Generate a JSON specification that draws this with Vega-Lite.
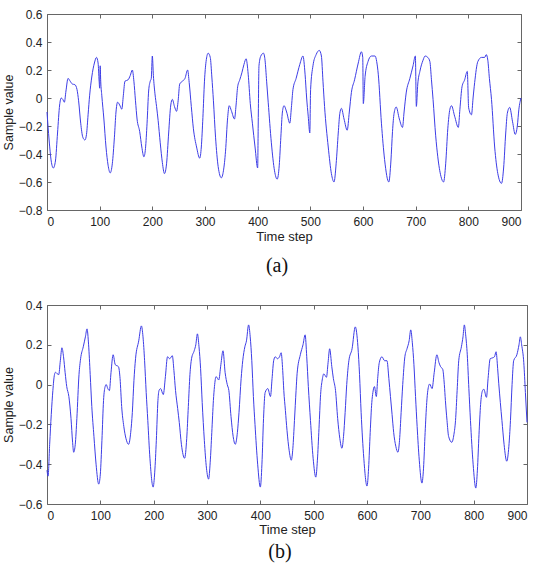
{
 "$schema": "https://vega.github.io/schema/vega-lite/v6.json",
 "padding": {"left": 2, "top": 8, "right": 5, "bottom": 5},
 "spacing": 23,
 "config": {
  "view": {"stroke": null},
  "axis": {"grid": false, "domainColor": "#666", "tickColor": "#666", "tickSize": -4, "labelPadding": 10, "labelFont": "Liberation Sans", "labelFontSize": 12, "labelColor": "#222", "titleFont": "Liberation Sans", "titleFontWeight": "normal", "titleColor": "#222", "titleFontSize": 13},
  "axisY": {"titleFontSize": 12.5, "labelPadding": 9, "titlePadding": 3}
 },
 "vconcat": [
  {
   "width": 474, "height": 196,
   "title": {"text": "(a)", "orient": "bottom", "font": "Liberation Serif", "fontSize": 20, "fontWeight": "normal", "offset": 13, "dx": -7, "color": "#111"},
   "data": {"values": [
{"t":0,"v":-0.1},{"t":4,"v":-0.3},{"t":8,"v":-0.45},{"t":12,"v":-0.5},{"t":16,"v":-0.45},{"t":20,"v":-0.25},{"t":24,"v":-0.05},{"t":27,"v":0.0},{"t":30,"v":-0.01},{"t":33,"v":-0.03},{"t":36,"v":0.05},{"t":40,"v":0.14},{"t":44,"v":0.12},{"t":48,"v":0.1},{"t":53,"v":0.095},{"t":57,"v":0.06},{"t":60,"v":-0.02},{"t":64,"v":-0.18},{"t":68,"v":-0.28},{"t":72,"v":-0.3},{"t":75,"v":-0.26},{"t":78,"v":-0.12},{"t":81,"v":0.02},{"t":85,"v":0.15},{"t":90,"v":0.25},{"t":94,"v":0.29},{"t":97,"v":0.25},{"t":99,"v":0.12},{"t":100,"v":0.07},{"t":101,"v":0.23},{"t":102,"v":0.12},{"t":104,"v":0.02},{"t":108,"v":-0.15},{"t":112,"v":-0.35},{"t":116,"v":-0.48},{"t":120,"v":-0.535},{"t":124,"v":-0.47},{"t":128,"v":-0.28},{"t":131,"v":-0.1},{"t":134,"v":-0.03},{"t":138,"v":-0.05},{"t":142,"v":-0.08},{"t":145,"v":0.02},{"t":148,"v":0.12},{"t":154,"v":0.13},{"t":158,"v":0.16},{"t":162,"v":0.2},{"t":165,"v":0.12},{"t":168,"v":-0.02},{"t":171,"v":-0.15},{"t":176,"v":-0.24},{"t":180,"v":-0.35},{"t":184,"v":-0.42},{"t":187,"v":-0.36},{"t":190,"v":-0.18},{"t":193,"v":0.05},{"t":196,"v":0.12},{"t":198,"v":0.14},{"t":200,"v":0.3},{"t":202,"v":0.16},{"t":205,"v":0.03},{"t":208,"v":-0.06},{"t":211,"v":-0.16},{"t":215,"v":-0.32},{"t":219,"v":-0.46},{"t":223,"v":-0.54},{"t":227,"v":-0.47},{"t":231,"v":-0.25},{"t":235,"v":-0.05},{"t":238,"v":-0.01},{"t":242,"v":-0.06},{"t":246,"v":-0.095},{"t":249,"v":-0.02},{"t":252,"v":0.1},{"t":257,"v":0.12},{"t":262,"v":0.14},{"t":267,"v":0.2},{"t":270,"v":0.11},{"t":274,"v":-0.06},{"t":278,"v":-0.22},{"t":284,"v":-0.35},{"t":290,"v":-0.43},{"t":293,"v":-0.35},{"t":296,"v":-0.14},{"t":299,"v":0.12},{"t":302,"v":0.26},{"t":306,"v":0.32},{"t":310,"v":0.29},{"t":313,"v":0.15},{"t":316,"v":-0.02},{"t":320,"v":-0.28},{"t":325,"v":-0.49},{"t":331,"v":-0.57},{"t":335,"v":-0.52},{"t":339,"v":-0.38},{"t":343,"v":-0.14},{"t":346,"v":-0.055},{"t":350,"v":-0.09},{"t":356,"v":-0.15},{"t":359,"v":-0.05},{"t":362,"v":0.08},{"t":366,"v":0.13},{"t":370,"v":0.18},{"t":374,"v":0.24},{"t":378,"v":0.28},{"t":382,"v":0.17},{"t":386,"v":-0.04},{"t":390,"v":-0.18},{"t":395,"v":-0.35},{"t":400,"v":-0.5},{"t":401,"v":-0.2},{"t":402.5,"v":0.23},{"t":406,"v":0.3},{"t":411,"v":0.32},{"t":414,"v":0.27},{"t":417,"v":0.12},{"t":420,"v":-0.03},{"t":426,"v":-0.32},{"t":432,"v":-0.52},{"t":437,"v":-0.58},{"t":441,"v":-0.48},{"t":444,"v":-0.28},{"t":447,"v":-0.1},{"t":450,"v":-0.055},{"t":455,"v":-0.1},{"t":461,"v":-0.18},{"t":464,"v":-0.07},{"t":467,"v":0.06},{"t":473,"v":0.14},{"t":480,"v":0.24},{"t":486,"v":0.3},{"t":490,"v":0.17},{"t":493,"v":0.0},{"t":496,"v":-0.13},{"t":499,"v":-0.25},{"t":500.5,"v":0.06},{"t":505,"v":0.23},{"t":511,"v":0.31},{"t":517,"v":0.34},{"t":521,"v":0.3},{"t":524,"v":0.12},{"t":527,"v":-0.06},{"t":534,"v":-0.35},{"t":540,"v":-0.54},{"t":545,"v":-0.6},{"t":549,"v":-0.47},{"t":553,"v":-0.25},{"t":556,"v":-0.11},{"t":559,"v":-0.074},{"t":564,"v":-0.15},{"t":570,"v":-0.23},{"t":574,"v":-0.1},{"t":578,"v":0.04},{"t":584,"v":0.13},{"t":591,"v":0.25},{"t":597,"v":0.33},{"t":599.5,"v":0.29},{"t":600.6,"v":-0.04},{"t":604,"v":0.155},{"t":609.5,"v":0.26},{"t":616,"v":0.3},{"t":623,"v":0.3},{"t":626,"v":0.26},{"t":629,"v":0.17},{"t":635,"v":-0.18},{"t":641,"v":-0.44},{"t":649,"v":-0.6},{"t":653,"v":-0.45},{"t":656,"v":-0.24},{"t":659,"v":-0.11},{"t":663,"v":-0.064},{"t":669,"v":-0.15},{"t":675,"v":-0.21},{"t":678,"v":-0.1},{"t":682,"v":0.036},{"t":689,"v":0.14},{"t":695,"v":0.23},{"t":699.4,"v":0.3},{"t":701.3,"v":-0.06},{"t":704,"v":0.1},{"t":708,"v":0.19},{"t":714,"v":0.27},{"t":718,"v":0.3},{"t":723,"v":0.29},{"t":727,"v":0.26},{"t":730,"v":0.13},{"t":733,"v":-0.01},{"t":738,"v":-0.27},{"t":742,"v":-0.42},{"t":748,"v":-0.56},{"t":753,"v":-0.6},{"t":757,"v":-0.47},{"t":761,"v":-0.22},{"t":765,"v":-0.08},{"t":768,"v":-0.055},{"t":774,"v":-0.13},{"t":781,"v":-0.21},{"t":784,"v":-0.08},{"t":788,"v":0.08},{"t":793,"v":0.13},{"t":798,"v":0.19},{"t":800.6,"v":-0.07},{"t":806,"v":-0.12},{"t":809,"v":0.0},{"t":812,"v":0.11},{"t":818,"v":0.26},{"t":825,"v":0.29},{"t":831,"v":0.29},{"t":834,"v":0.31},{"t":837,"v":0.27},{"t":840,"v":0.14},{"t":844,"v":-0.01},{"t":850,"v":-0.35},{"t":856,"v":-0.54},{"t":863,"v":-0.61},{"t":867,"v":-0.5},{"t":871,"v":-0.25},{"t":874,"v":-0.11},{"t":878.5,"v":-0.067},{"t":884,"v":-0.17},{"t":889,"v":-0.26},{"t":893,"v":-0.2},{"t":896,"v":-0.08},{"t":900,"v":0.0}
   ]},
   "layer": [
    {"mark": {"type": "line", "color": "#3d3de6", "strokeWidth": 1, "interpolate": "monotone"},
     "encoding": {
      "x": {"field": "t", "type": "quantitative", "scale": {"domain": [0, 900], "nice": false}, "axis": {"orient": "bottom", "title": "Time step", "titlePadding": 3, "values": [0,100,200,300,400,500,600,700,800,900]}},
      "y": {"field": "v", "type": "quantitative", "scale": {"domain": [-0.8, 0.6], "nice": false, "zero": false}, "axis": {"orient": "left", "title": "Sample value", "values": [-0.8,-0.6,-0.4,-0.2,0,0.2,0.4,0.6], "format": "~g"}}
     }},
    {"mark": {"type": "line", "opacity": 0},
     "encoding": {
      "x": {"field": "t", "type": "quantitative", "axis": {"orient": "top", "labels": false, "title": null, "values": [0,100,200,300,400,500,600,700,800,900]}},
      "y": {"field": "v", "type": "quantitative", "axis": {"orient": "right", "labels": false, "title": null, "values": [-0.8,-0.6,-0.4,-0.2,0,0.2,0.4,0.6]}}
     }}
   ]
  },
  {
   "width": 480, "height": 199,
   "title": {"text": "(b)", "orient": "bottom", "font": "Liberation Serif", "fontSize": 20, "fontWeight": "normal", "offset": 6, "dx": -7, "color": "#111"},
   "data": {"values": [
{"t":0,"v":-0.43},{"t":2,"v":-0.46},{"t":5,"v":-0.3},{"t":8,"v":-0.15},{"t":11,"v":-0.03},{"t":14,"v":0.05},{"t":16,"v":0.062},{"t":19,"v":0.055},{"t":22,"v":0.05},{"t":25,"v":0.12},{"t":28,"v":0.185},{"t":31,"v":0.14},{"t":34,"v":0.06},{"t":37,"v":-0.01},{"t":41,"v":-0.06},{"t":45,"v":-0.17},{"t":48,"v":-0.29},{"t":50,"v":-0.34},{"t":53,"v":-0.3},{"t":56,"v":-0.17},{"t":60,"v":0.05},{"t":63,"v":0.13},{"t":68,"v":0.19},{"t":72,"v":0.24},{"t":75,"v":0.28},{"t":78,"v":0.2},{"t":81,"v":0.05},{"t":84,"v":-0.11},{"t":88,"v":-0.26},{"t":92,"v":-0.4},{"t":97,"v":-0.5},{"t":100,"v":-0.45},{"t":103,"v":-0.28},{"t":106,"v":-0.08},{"t":109,"v":-0.01},{"t":111,"v":0.0},{"t":114,"v":-0.02},{"t":117,"v":-0.03},{"t":120,"v":0.06},{"t":124,"v":0.15},{"t":128,"v":0.1},{"t":134,"v":0.09},{"t":137,"v":0.03},{"t":140,"v":-0.11},{"t":144,"v":-0.21},{"t":148,"v":-0.27},{"t":153,"v":-0.3},{"t":157,"v":-0.24},{"t":160,"v":-0.14},{"t":163,"v":0.02},{"t":166,"v":0.13},{"t":172,"v":0.22},{"t":177,"v":0.295},{"t":180,"v":0.24},{"t":183,"v":0.12},{"t":186,"v":-0.04},{"t":189,"v":-0.18},{"t":193,"v":-0.37},{"t":199,"v":-0.515},{"t":202,"v":-0.44},{"t":205,"v":-0.28},{"t":208,"v":-0.08},{"t":210,"v":-0.03},{"t":213,"v":-0.02},{"t":218,"v":-0.05},{"t":222,"v":0.04},{"t":226,"v":0.14},{"t":230,"v":0.13},{"t":235,"v":0.145},{"t":238,"v":0.07},{"t":241,"v":-0.03},{"t":245,"v":-0.12},{"t":248,"v":-0.19},{"t":252,"v":-0.3},{"t":258,"v":-0.37},{"t":262,"v":-0.27},{"t":265,"v":-0.11},{"t":268,"v":0.05},{"t":271,"v":0.13},{"t":276,"v":0.17},{"t":279,"v":0.2},{"t":282,"v":0.255},{"t":285,"v":0.19},{"t":288,"v":0.08},{"t":291,"v":-0.09},{"t":295,"v":-0.28},{"t":299,"v":-0.42},{"t":303,"v":-0.475},{"t":306,"v":-0.39},{"t":309,"v":-0.24},{"t":312,"v":-0.08},{"t":314,"v":-0.01},{"t":317,"v":0.04},{"t":320,"v":0.03},{"t":322,"v":0.023},{"t":326,"v":0.1},{"t":330,"v":0.17},{"t":334,"v":0.06},{"t":338,"v":0.0},{"t":341,"v":-0.03},{"t":345,"v":-0.16},{"t":349,"v":-0.26},{"t":353,"v":-0.3},{"t":357,"v":-0.24},{"t":360,"v":-0.14},{"t":364,"v":0.03},{"t":367,"v":0.12},{"t":371,"v":0.19},{"t":374,"v":0.22},{"t":378,"v":0.3},{"t":381,"v":0.24},{"t":384,"v":0.12},{"t":387,"v":-0.06},{"t":390,"v":-0.2},{"t":395,"v":-0.4},{"t":400,"v":-0.515},{"t":403,"v":-0.4},{"t":406,"v":-0.17},{"t":409,"v":-0.04},{"t":414,"v":-0.02},{"t":419,"v":-0.06},{"t":422,"v":0.03},{"t":425,"v":0.12},{"t":428,"v":0.14},{"t":432,"v":0.13},{"t":436,"v":0.14},{"t":439,"v":0.16},{"t":442,"v":0.07},{"t":444,"v":-0.03},{"t":447,"v":-0.13},{"t":450,"v":-0.23},{"t":454,"v":-0.33},{"t":458,"v":-0.38},{"t":461,"v":-0.32},{"t":464,"v":-0.18},{"t":467,"v":-0.03},{"t":469,"v":0.057},{"t":475,"v":0.15},{"t":480,"v":0.2},{"t":484,"v":0.25},{"t":487,"v":0.14},{"t":490,"v":-0.01},{"t":494,"v":-0.18},{"t":499,"v":-0.37},{"t":504,"v":-0.465},{"t":507,"v":-0.38},{"t":510,"v":-0.22},{"t":513,"v":-0.05},{"t":516,"v":0.023},{"t":519,"v":0.054},{"t":524,"v":0.037},{"t":527,"v":0.11},{"t":530,"v":0.18},{"t":534,"v":0.09},{"t":537,"v":0.03},{"t":541,"v":-0.03},{"t":545,"v":-0.17},{"t":549,"v":-0.27},{"t":553,"v":-0.32},{"t":556,"v":-0.26},{"t":559,"v":-0.14},{"t":562,"v":0.0},{"t":566,"v":0.12},{"t":572,"v":0.18},{"t":578,"v":0.29},{"t":583,"v":0.19},{"t":586,"v":0.05},{"t":589,"v":-0.14},{"t":594,"v":-0.37},{"t":600,"v":-0.51},{"t":603,"v":-0.42},{"t":606,"v":-0.24},{"t":609,"v":-0.09},{"t":611,"v":-0.04},{"t":614,"v":-0.01},{"t":617.5,"v":-0.06},{"t":620,"v":0.03},{"t":623,"v":0.11},{"t":628,"v":0.14},{"t":633,"v":0.12},{"t":637.5,"v":0.12},{"t":641,"v":0.03},{"t":644,"v":-0.06},{"t":647,"v":-0.15},{"t":650,"v":-0.24},{"t":654,"v":-0.31},{"t":658,"v":-0.34},{"t":661,"v":-0.28},{"t":664,"v":-0.14},{"t":667,"v":0.0},{"t":671,"v":0.14},{"t":675,"v":0.18},{"t":679,"v":0.22},{"t":682,"v":0.275},{"t":685,"v":0.21},{"t":688,"v":0.1},{"t":691,"v":-0.06},{"t":694,"v":-0.21},{"t":698,"v":-0.38},{"t":703,"v":-0.495},{"t":706,"v":-0.42},{"t":709,"v":-0.24},{"t":712,"v":-0.09},{"t":714,"v":-0.03},{"t":717.5,"v":0.003},{"t":722,"v":-0.02},{"t":726,"v":0.06},{"t":731,"v":0.15},{"t":735,"v":0.11},{"t":738,"v":0.09},{"t":742,"v":0.077},{"t":745,"v":0.0},{"t":747,"v":-0.08},{"t":750,"v":-0.18},{"t":753,"v":-0.26},{"t":759,"v":-0.29},{"t":763,"v":-0.25},{"t":766,"v":-0.18},{"t":769,"v":-0.03},{"t":772,"v":0.12},{"t":777,"v":0.19},{"t":780,"v":0.24},{"t":782.5,"v":0.3},{"t":785,"v":0.25},{"t":788,"v":0.15},{"t":791,"v":-0.02},{"t":794,"v":-0.18},{"t":799,"v":-0.4},{"t":804,"v":-0.52},{"t":807,"v":-0.43},{"t":810,"v":-0.25},{"t":813,"v":-0.1},{"t":816,"v":-0.035},{"t":819,"v":-0.023},{"t":824,"v":-0.064},{"t":827,"v":0.03},{"t":831,"v":0.13},{"t":836,"v":0.135},{"t":839,"v":0.14},{"t":842,"v":0.165},{"t":845,"v":0.08},{"t":847,"v":0.007},{"t":850,"v":-0.09},{"t":853,"v":-0.18},{"t":857,"v":-0.3},{"t":862,"v":-0.385},{"t":866,"v":-0.31},{"t":869,"v":-0.18},{"t":872,"v":0.0},{"t":875,"v":0.12},{"t":881,"v":0.15},{"t":885,"v":0.2},{"t":887.5,"v":0.24},{"t":890,"v":0.2},{"t":894,"v":0.11},{"t":897,"v":-0.04},{"t":900,"v":-0.19}
   ]},
   "layer": [
    {"mark": {"type": "line", "color": "#3d3de6", "strokeWidth": 1, "interpolate": "monotone"},
     "encoding": {
      "x": {"field": "t", "type": "quantitative", "scale": {"domain": [0, 900], "nice": false}, "axis": {"orient": "bottom", "title": "Time step", "titlePadding": 2, "values": [0,100,200,300,400,500,600,700,800,900]}},
      "y": {"field": "v", "type": "quantitative", "scale": {"domain": [-0.6, 0.4], "nice": false, "zero": false}, "axis": {"orient": "left", "title": "Sample value", "values": [-0.6,-0.4,-0.2,0,0.2,0.4], "format": "~g"}}
     }},
    {"mark": {"type": "line", "opacity": 0},
     "encoding": {
      "x": {"field": "t", "type": "quantitative", "axis": {"orient": "top", "labels": false, "title": null, "values": [0,100,200,300,400,500,600,700,800,900]}},
      "y": {"field": "v", "type": "quantitative", "axis": {"orient": "right", "labels": false, "title": null, "values": [-0.6,-0.4,-0.2,0,0.2,0.4]}}
     }}
   ]
  }
 ]
}
